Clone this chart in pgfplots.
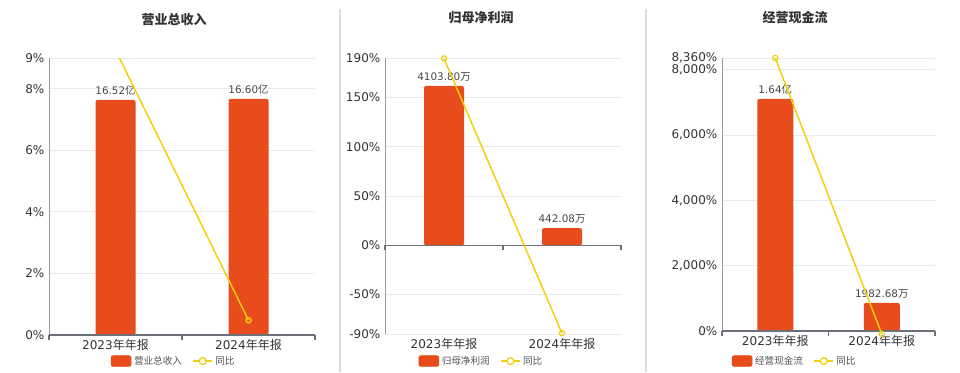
\documentclass[border=0pt]{standalone}
\usepackage{fontspec}
\setmainfont{DejaVu Sans}
\newfontfamily\cjk{Noto Sans CJK SC}
\usepackage{pgfplots}
\pgfplotsset{compat=1.18}
\definecolor{barc}{HTML}{E84C1C}
\definecolor{linec}{HTML}{F2CF08}
\definecolor{gridc}{HTML}{E6EAF3}
\definecolor{axisc}{HTML}{6E7079}
\definecolor{yaxc}{HTML}{9A9AA4}
\definecolor{txtc}{HTML}{333333}
\definecolor{sepc}{HTML}{DDDDDD}
\tikzset{bl/.style={axisc, line width=0.8pt}}
\pgfplotsset{
  base/.style={scale only axis, xmin=-0.5, xmax=1.5, anchor=south west},
  frame/.style={base,
    axis y line*=left, axis x line*=bottom,
    x axis line style={draw=none},
    y axis line style={draw=yaxc, line width=0.7pt},
    xtick={0,1}, xticklabels={2023\cjk{年年报},2024\cjk{年年报}},
    major tick length=0pt,
    ymajorgrids, grid style={draw=gridc, line width=0.6pt},
    ticklabel style={font=\fontsize{9}{10}\selectfont, text=txtc},
    /pgf/number format/assume math mode=true,
    yticklabel={\pgfmathprintnumber{\tick}\%},
    every axis title shift=0pt,
    title style={anchor=center, font=\cjk\bfseries\fontsize{9.75}{11}\selectfont, text=txtc},
    legend columns=2,
    legend style={draw=none, fill=none, anchor=center, font=\fontsize{7.2}{8}\selectfont, text=txtc!85,
      /tikz/every even column/.append style={column sep=6pt}},
  },
  barax/.style={base, hide axis, ybar, bar width=30pt,
    nodes near coords, point meta=explicit symbolic,
    every node near coord/.append style={font=\fontsize{7.8}{9}\selectfont, text=txtc!90},
  },
  barst/.style={fill=barc, draw=none, rounded corners=1.5pt},
  lineax/.style={base, hide axis, clip mode=individual},
  yst/.style={linec, line width=1.1pt, mark=o, mark size=2pt, mark options={fill=white, draw=linec, line width=0.9pt}},
  barlegend/.style={legend image code/.code={\fill[barc, rounded corners=1.5pt] (0pt,-4pt) rectangle (15pt,4pt);}},
  linelegend/.style={legend image code/.code={\draw[linec, line width=1pt] (0pt,0pt) -- (14pt,0pt); \draw[linec, line width=0.9pt, fill=white] (7pt,0pt) circle (2.6pt);}},
}
\begin{document}
\begin{tikzpicture}
\useasboundingbox (0,0) rectangle (720pt,279pt);
\draw[sepc, line width=0.9pt] (255pt,0pt) -- (255pt,272pt);
\draw[sepc, line width=0.9pt] (484.5pt,0pt) -- (484.5pt,272pt);

% ---------- Panel 1 ----------
\begin{axis}[frame, at={(36.75pt,27.75pt)}, width=199.5pt, height=207.75pt,
  ymin=0, ymax=9, ytick={0,2,4,6,8,9},
  title={营业总收入}, title style={at={(0.47,1.14)}},
  legend style={at={(0.47,-0.094)}}]
\addlegendimage{barlegend}\addlegendentry{\cjk 营业总收入}
\addlegendimage{linelegend}\addlegendentry{\cjk 同比}
\end{axis}
\begin{axis}[barax, at={(36.75pt,27.75pt)}, width=199.5pt, height=207.75pt,
  ymin=0, ymax=19.47, bar width=30pt]
\addplot[barst] coordinates {(0,16.52) [16.52\cjk{亿}] (1,16.60) [16.60\cjk{亿}]};
\end{axis}
\begin{axis}[lineax, at={(36.75pt,27.75pt)}, width=199.5pt, height=207.75pt,
  ymin=0, ymax=9]
\draw[bl] (axis cs:-0.5,0) -- (axis cs:1.5,0);
\draw[bl] (axis cs:-0.5,0) -- ++(0pt,-3.5pt);
\draw[bl] (axis cs:0.5,0) -- ++(0pt,-3.5pt);
\draw[bl] (axis cs:1.5,0) -- ++(0pt,-3.5pt);
\addplot[yst] coordinates {(0,9.26) (1,0.48)};
\end{axis}

% ---------- Panel 2 ----------
\begin{axis}[frame, at={(288.75pt,28.5pt)}, width=177pt, height=207pt,
  ymin=-90, ymax=190, ytick={-90,-50,0,50,100,150,190},
  title={归母净利润}, title style={at={(0.407,1.145)}},
  legend style={at={(0.41,-0.098)}}]
\addlegendimage{barlegend}\addlegendentry{\cjk 归母净利润}
\addlegendimage{linelegend}\addlegendentry{\cjk 同比}
\end{axis}
\begin{axis}[barax, at={(288.75pt,28.5pt)}, width=177pt, height=207pt,
  ymin=-2285.5, ymax=4825, bar width=30pt]
\addplot[barst] coordinates {(0,4103.80) [4103.80\cjk{万}] (1,442.08) [442.08\cjk{万}]};
\end{axis}
\begin{axis}[lineax, at={(288.75pt,28.5pt)}, width=177pt, height=207pt,
  ymin=-90, ymax=190]
\draw[bl] (axis cs:-0.5,0) -- (axis cs:1.5,0);
\draw[bl] (axis cs:-0.5,0) -- ++(0pt,-3.5pt);
\draw[bl] (axis cs:0.5,0) -- ++(0pt,-3.5pt);
\draw[bl] (axis cs:1.5,0) -- ++(0pt,-3.5pt);
\addplot[yst] coordinates {(0,189.5) (1,-89.23)};
\end{axis}

% ---------- Panel 3 ----------
\begin{axis}[frame, at={(541.5pt,30.75pt)}, width=159.75pt, height=204.75pt,
  ymin=0, ymax=8360, ytick={0,2000,4000,6000,8000,8360},
  title={经营现金流}, title style={at={(0.343,1.147)}},
  legend style={at={(0.343,-0.11)}}]
\addlegendimage{barlegend}\addlegendentry{\cjk 经营现金流}
\addlegendimage{linelegend}\addlegendentry{\cjk 同比}
\end{axis}
\begin{axis}[barax, at={(541.5pt,30.75pt)}, width=159.75pt, height=204.75pt,
  ymin=0, ymax=19298, bar width=27pt]
\addplot[barst] coordinates {(0,16400) [1.64\cjk{亿}] (1,1982.68) [1982.68\cjk{万}]};
\end{axis}
\begin{axis}[lineax, at={(541.5pt,30.75pt)}, width=159.75pt, height=204.75pt,
  ymin=0, ymax=8360, clip=false]
\draw[bl] (axis cs:-0.5,0) -- (axis cs:1.5,0);
\draw[bl] (axis cs:-0.5,0) -- ++(0pt,-3.5pt);
\draw[bl] (axis cs:0.5,0) -- ++(0pt,-3.5pt);
\draw[bl] (axis cs:1.5,0) -- ++(0pt,-3.5pt);
\addplot[yst] coordinates {(0,8360) (1,-87.9)};
\end{axis}
\end{tikzpicture}
\end{document}
